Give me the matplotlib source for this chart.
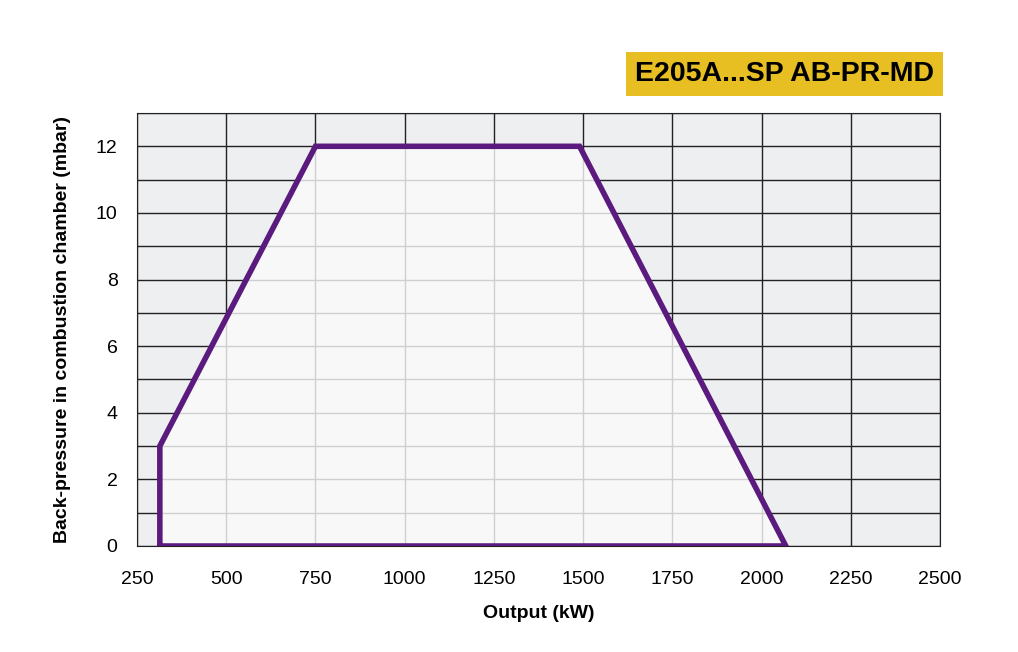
import matplotlib
matplotlib.use("Agg")
import matplotlib.pyplot as plt
from matplotlib.patches import Polygon

output_kw = [314, 314, 750, 1490, 2068, 314]
pressure = [0, 3, 12, 12, 0, 0]
xticks = [250, 500, 750, 1000, 1250, 1500, 1750, 2000, 2250, 2500]
yticks = [0, 2, 4, 6, 8, 10, 12]
title = "E205A...SP AB-PR-MD"

plt.rcParams['font.family'] = ['Liberation Sans', 'DejaVu Sans']
fig = plt.figure(figsize=(10.18, 6.52), dpi=100)
ax = fig.add_axes([137/1018, 1-546/652, (940-137)/1018, (546-113)/652])
ax.set_xlim(250, 2500)
ax.set_ylim(0, 13)
ax.set_facecolor('#eeeff1')
ax.set_xticks(xticks)
ax.set_yticks(yticks)
ax.set_yticks(range(0, 14), minor=True)
ax.grid(True, which='both', color='#222222', lw=1.0, zorder=1)
ax.tick_params(axis='both', labelsize=14, length=0)
ax.tick_params(axis='x', pad=18)
ax.tick_params(axis='y', pad=14)
ax.tick_params(axis='y', which='minor', length=0)
for s in ax.spines.values():
    s.set_color('#222222')
ax.add_patch(Polygon(list(zip(output_kw, pressure)), closed=True,
                     facecolor='#fbfbfb', alpha=0.8, edgecolor='none', zorder=2))
ax.plot(output_kw, pressure, color='#5b1a7e', lw=4, zorder=3, solid_joinstyle='miter')
ax.set_xlabel('Output (kW)', fontsize=14, fontweight='bold', labelpad=12)
ax.set_ylabel('Back-pressure in combustion chamber (mbar)', fontsize=14, fontweight='bold', labelpad=18)
fig.text(934/1018, 1-74/652, title, fontsize=20.5, fontweight='bold', va='center', ha='right',
         bbox=dict(boxstyle='square,pad=0.3', facecolor='#e8bf22', edgecolor='none'))
fig.savefig('out.png', dpi=100)
